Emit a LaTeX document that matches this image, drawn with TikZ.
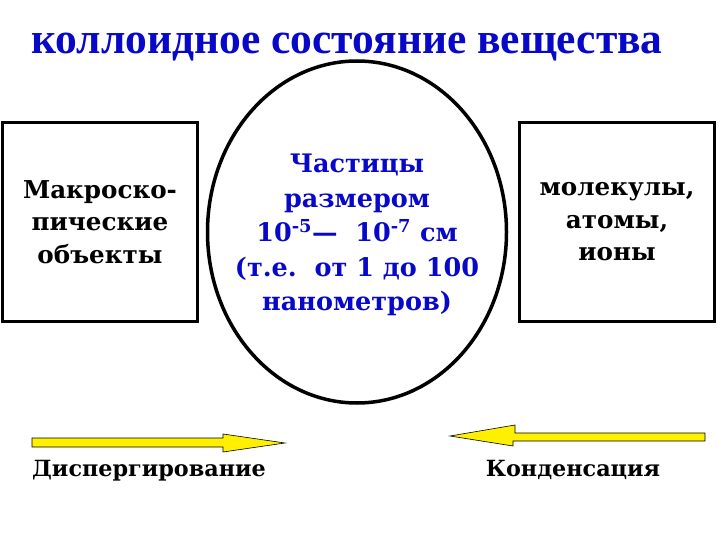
\documentclass[tikz,border=0pt]{standalone}
\usepackage{fontspec}
\setmainfont{Liberation Serif}
\newfontfamily\bodyfont{DejaVu Serif}
\usetikzlibrary{shapes.geometric}
\definecolor{titleblue}{RGB}{8,8,200}
\definecolor{arrowyellow}{RGB}{255,240,0}
\tikzset{
  box/.style={draw=black, line width=2.5pt, minimum width=195pt, minimum height=199pt, inner sep=0pt,
    align=center, font=\bodyfont\bfseries\fontsize{24.6}{32.5}\selectfont},
  oval/.style={draw=black, line width=3.5pt, ellipse, minimum width=299pt, minimum height=342pt, inner sep=0pt,
    align=center, text=titleblue, font=\bodyfont\bfseries\fontsize{25.5}{34.5}\selectfont},
  fatarrow/.style={draw=black, line width=0.6pt, fill=arrowyellow},
  lbl/.style={font=\bodyfont\bfseries\fontsize{22.3}{30}\selectfont, inner sep=0pt}
}
\begin{document}
\begin{tikzpicture}[x=1pt,y=-1pt]
\useasboundingbox (0,0) rectangle (720,540);
\node[font=\bfseries\fontsize{43.5}{48}\selectfont, text=titleblue, inner sep=0pt, anchor=base] (title) at (347,54) {коллоидное состояние вещества};
\node[box] (macro) at (100,222) {Макроско-\\пические\\объекты};
\node[oval] (part) at (357,232) {};
\node[align=center, text=titleblue, font=\bodyfont\bfseries\fontsize{25.5}{34.5}\selectfont, inner sep=0pt] (parttext) at (357,235) {Частицы\\размером\\10\textsuperscript{-5}—\ \ 10\textsuperscript{-7} см\\(т.е.\ \ от 1 до 100\\нанометров)};
\node[box] (mol) at (617,222) {молекулы,\\атомы,\\ионы};
\draw[fatarrow] (32,438) -- (223,438) -- (223,434) -- (285,443) -- (223,452) -- (223,447) -- (32,447) -- cycle;
\draw[fatarrow] (705,433) -- (515,433) -- (515,425) -- (450,436) -- (513,446) -- (513,441) -- (705,441) -- cycle;
\node[lbl, anchor=base] (disp) at (149,476) {Диспергирование};
\node[lbl, anchor=base] (cond) at (573,476) {Конденсация};
\end{tikzpicture}
\end{document}
